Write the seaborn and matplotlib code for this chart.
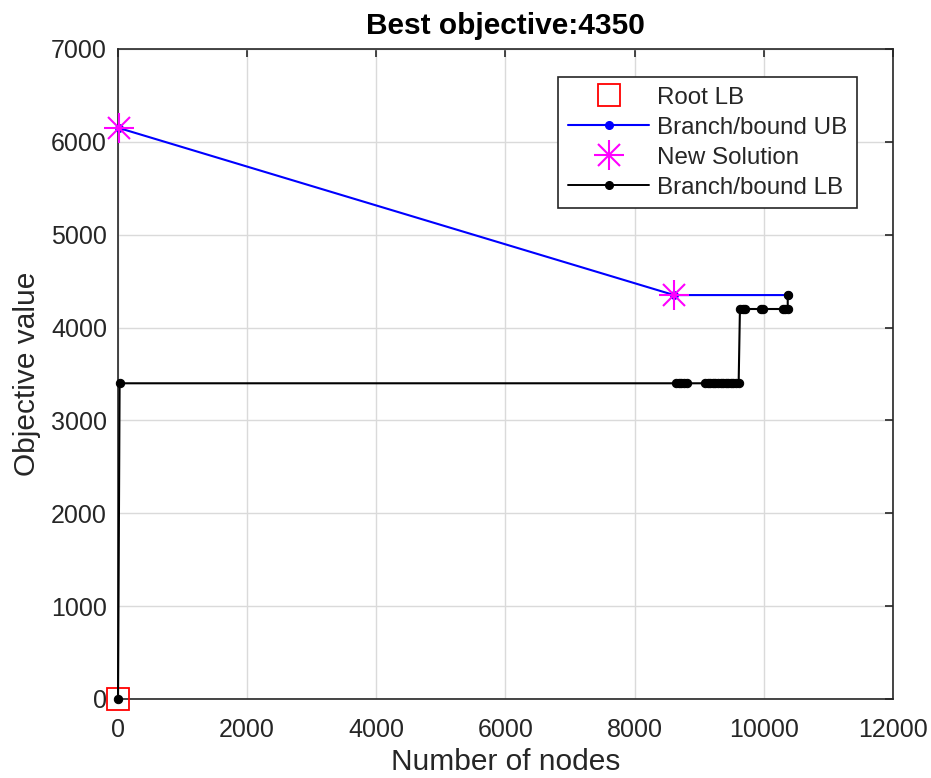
import matplotlib
matplotlib.use("Agg")
import matplotlib.pyplot as plt
from matplotlib.lines import Line2D
import seaborn as sns
import pandas as pd

# Root node lower bound
root_nodes = [0]
root_lb = [0]

# Incumbent (upper bound) history
ub_nodes = [10, 8610, 10370]
ub_vals = [6150, 4350, 4350]

# Nodes where a new incumbent solution was found
sol_nodes = [10, 8610]
sol_vals = [6150, 4350]

# Lower bound history over explored nodes
lb_nodes = [0, 25,
            8640, 8680, 8720, 8760, 8810,
            9090, 9130, 9170, 9210, 9250, 9290, 9330, 9370, 9410, 9450,
            9490, 9530, 9570, 9610,
            9630, 9670, 9710, 9950, 9980, 10290, 10330, 10370,
            10370]
lb_vals = [0, 3400,
           3400, 3400, 3400, 3400, 3400,
           3400, 3400, 3400, 3400, 3400, 3400, 3400, 3400, 3400, 3400,
           3400, 3400, 3400, 3400,
           4200, 4200, 4200, 4200, 4200, 4200, 4200, 4200,
           4350]

best_obj = 4350
x_ticks = [0, 2000, 4000, 6000, 8000, 10000, 12000]
y_ticks = [0, 1000, 2000, 3000, 4000, 5000, 6000, 7000]

sns.set_style("white")
plt.rcParams["font.family"] = ["Liberation Sans", "DejaVu Sans"]

fig = plt.figure(figsize=(9.31, 7.78), dpi=100)
ax = fig.add_axes([118 / 931, 1 - 699 / 778, 775 / 931, 650 / 778])

ub_df = pd.DataFrame({"node": ub_nodes, "val": ub_vals})
lb_df = pd.DataFrame({"node": lb_nodes, "val": lb_vals})

# Root lower bound
ax.plot(root_nodes, root_lb, linestyle="none", marker="s", markersize=16,
        markerfacecolor="none", markeredgecolor="#ff0000", markeredgewidth=1.3,
        clip_on=False, zorder=3)

# Upper bound trajectory
sns.lineplot(data=ub_df, x="node", y="val", ax=ax, sort=False, estimator=None,
             color="#0000ff", linewidth=1.5, marker="o", markersize=5.5,
             markeredgecolor="#0000ff", clip_on=False, zorder=4)

# New solutions as asterisks (plus + cross)
ax.plot(sol_nodes, sol_vals, linestyle="none", marker="+", markersize=22,
        markeredgewidth=1.5, color="#ff00ff", clip_on=False, zorder=5)
ax.plot(sol_nodes, sol_vals, linestyle="none", marker="x", markersize=15.5,
        markeredgewidth=1.5, color="#ff00ff", clip_on=False, zorder=5)

# Lower bound trajectory
sns.lineplot(data=lb_df, x="node", y="val", ax=ax, sort=False, estimator=None,
             color="#000000", linewidth=1.5, marker="o", markersize=6,
             markeredgecolor="#000000", clip_on=False, zorder=6)

ax.set_xlim(0, 12000)
ax.set_ylim(0, 7000)
ax.set_xticks(x_ticks)
ax.set_yticks(y_ticks)
ax.set_xticklabels([str(v) for v in x_ticks])
ax.set_yticklabels([str(v) for v in y_ticks])

ax.grid(True, color="#dadada", linewidth=1.0)
ax.set_axisbelow(True)
for sp in ax.spines.values():
    sp.set_color("#262626")
    sp.set_linewidth(1.2)
    sp.set_visible(True)

ax.tick_params(axis="both", which="major", direction="in", length=6, width=1.2,
               color="#262626", labelcolor="#262626", labelsize=18,
               top=True, right=True)
ax.tick_params(axis="x", pad=14)
ax.tick_params(axis="y", pad=8)

ax.set_xlabel("Number of nodes", fontsize=21.5, color="#262626", labelpad=4)
ax.set_ylabel("Objective value", fontsize=21.5, color="#262626", labelpad=7)
ax.set_title(f"Best objective:{best_obj}", fontsize=21.5, fontweight="bold",
             color="black", pad=11)

# Legend
h_root = Line2D([], [], linestyle="none", marker="s", markersize=16,
                markerfacecolor="none", markeredgecolor="#ff0000", markeredgewidth=1.3)
h_ub = Line2D([], [], color="#0000ff", linewidth=1.5, marker="o", markersize=5.5,
              markeredgecolor="#0000ff")
h_plus = Line2D([], [], linestyle="none", marker="+", markersize=22,
                markeredgewidth=1.5, color="#ff00ff")
h_x = Line2D([], [], linestyle="none", marker="x", markersize=15.5,
             markeredgewidth=1.5, color="#ff00ff")
h_lb = Line2D([], [], color="#000000", linewidth=1.4, marker="o", markersize=5.5,
              markeredgecolor="#000000")
leg = ax.legend([h_root, h_ub, (h_plus, h_x), h_lb],
                ["Root LB", "Branch/bound UB", "New Solution", "Branch/bound LB"],
                loc="upper right", bbox_to_anchor=(857 / 931, 1 - 77 / 778),
                bbox_transform=fig.transFigure, fontsize=17.4, frameon=True,
                fancybox=False, edgecolor="#262626", framealpha=1,
                handlelength=3.35, handletextpad=0.33, labelspacing=0.33,
                borderpad=0.4, borderaxespad=0)
leg.get_frame().set_linewidth(1.2)

fig.savefig("out.png", dpi=100)
